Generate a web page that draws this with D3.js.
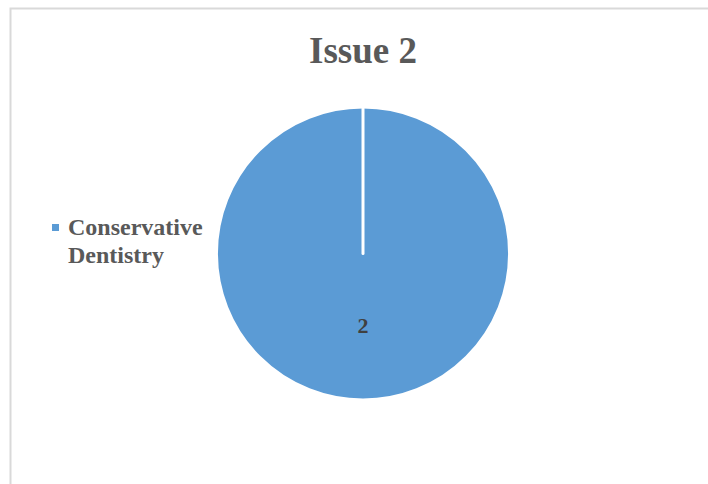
<!DOCTYPE html>
<html><head><meta charset="utf-8">
<script src="https://cdn.jsdelivr.net/npm/d3@7"></script>
<style>body{margin:0;background:#fff;}svg{display:block;}</style>
</head><body>
<svg id="chart" width="708" height="484"></svg>
<script>
const title = "Issue 2";
const categories = ["Conservative Dentistry"];
const legendLines = [["Conservative", "Dentistry"]];
const values = [2];
const colors = ["#5b9bd5"];

const svg = d3.select("#chart");
svg.append("rect").attr("x",10.5).attr("y",8.5).attr("width",760).attr("height",520)
  .attr("fill","#fff").attr("stroke","#d9d9d9").attr("stroke-width",2);

svg.append("text").attr("x",363).attr("y",62.5).attr("text-anchor","middle")
  .attr("font-family","'Liberation Serif','Times New Roman',serif").attr("font-weight","bold")
  .attr("font-size",37).attr("fill","#595959").text(title);

const cx = 363, cy = 253.5, r = 146.5;
const pie = d3.pie().sort(null).value(d=>d);
const arc = d3.arc().innerRadius(0).outerRadius(r);
const g = svg.append("g").attr("transform",`translate(${cx},${cy})`);
const arcs = pie(values);
g.selectAll("path").data(arcs).join("path")
  .attr("d",arc).attr("fill",(d,i)=>colors[i])
  .attr("stroke","#fff").attr("stroke-width",3).attr("stroke-linejoin","round");

// slice border edges (radial lines at slice boundaries)
g.selectAll("line.edge").data(arcs).join("line").attr("class","edge")
  .attr("x1",0).attr("y1",0)
  .attr("x2",d=>r*Math.sin(d.startAngle)).attr("y2",d=>-r*Math.cos(d.startAngle))
  .attr("stroke","#fff").attr("stroke-width",3).attr("stroke-linecap","round");

const labelArc = d3.arc().innerRadius(r*0.52).outerRadius(r*0.52);
g.selectAll("text.lbl").data(arcs).join("text").attr("class","lbl")
  .attr("x",d=> d.endAngle - d.startAngle >= 2*Math.PI - 1e-6 ? 0 : labelArc.centroid(d)[0])
  .attr("y",d=> d.endAngle - d.startAngle >= 2*Math.PI - 1e-6 ? 74 : labelArc.centroid(d)[1])
  .attr("text-anchor","middle").attr("dominant-baseline","middle")
  .attr("font-family","'Liberation Serif','Times New Roman',serif").attr("font-weight","bold")
  .attr("font-size",22).attr("fill","#404040").text(d=>d.data);

const leg = svg.append("g");
categories.forEach((c,i)=>{
  leg.append("rect").attr("x",52).attr("y",224).attr("width",7).attr("height",7).attr("fill",colors[i]);
  const t = leg.append("text").attr("font-family","'Liberation Serif','Times New Roman',serif")
    .attr("font-weight","bold").attr("font-size",24).attr("fill","#595959");
  legendLines[i].forEach((ln,j)=>{
    t.append("tspan").attr("x",68).attr("y",235 + j*28).text(ln);
  });
});
</script>
</body></html>
